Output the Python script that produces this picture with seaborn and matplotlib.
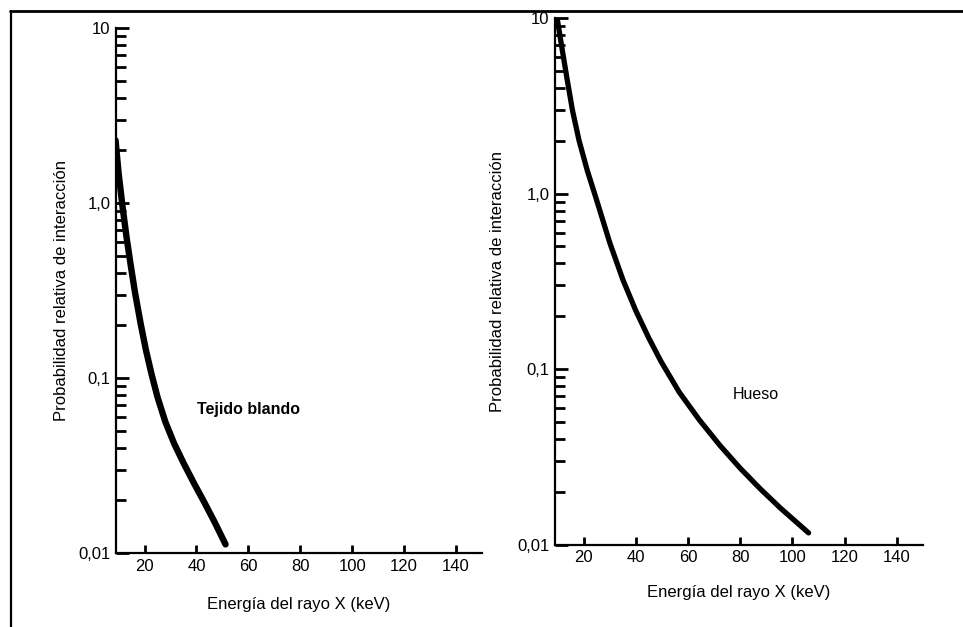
import matplotlib
matplotlib.use("Agg")
import matplotlib.pyplot as plt
import seaborn as sns
import pandas as pd
from matplotlib.lines import Line2D
from matplotlib.ticker import FixedLocator, LogLocator, NullFormatter, FixedFormatter

# ---- data ----
energia_tejido = [8.8, 10, 11.5, 13, 14.5, 16.3, 18.5, 20.5, 22.7, 25, 28, 31.4, 35, 39, 43, 47, 51.2]
prob_tejido = [2.29, 1.48, 0.955, 0.646, 0.457, 0.309, 0.204, 0.145, 0.105, 0.0776, 0.0562,
               0.0422, 0.0327, 0.0251, 0.0195, 0.015, 0.0112]

energia_hueso = [9.9, 11.8, 13.7, 15.7, 18.2, 21.4, 24.6, 30, 35, 40, 45, 49.6, 56.6, 64.4,
                 72.1, 79.9, 87.6, 95.4, 106.2]
prob_hueso = [9.8, 6.56, 4.43, 2.98, 2.01, 1.35, 0.955, 0.525, 0.324, 0.215, 0.150, 0.111,
              0.0741, 0.0513, 0.037, 0.0274, 0.0209, 0.0162, 0.0117]

x_ticks = [20, 40, 60, 80, 100, 120, 140]
y_ticks = [0.01, 0.1, 1, 10]
y_tick_labels = ["0,01", "0,1", "1,0", "10"]
x_label = "Energía del rayo X (keV)"
y_label = "Probabilidad relativa de interacción"
label_tejido = "Tejido blando"
label_hueso = "Hueso"

sns.set_theme(style="white")
plt.rcParams["font.family"] = ["Liberation Sans", "DejaVu Sans"]
plt.rcParams["text.color"] = "black"
plt.rcParams["axes.labelcolor"] = "black"

fig = plt.figure(figsize=(9.63, 6.27), dpi=100)
ax1 = fig.add_axes([0.1205, 0.118, 0.380, 0.837])
ax2 = fig.add_axes([0.5763, 0.131, 0.382, 0.8405])

df1 = pd.DataFrame({"E": energia_tejido, "P": prob_tejido})
df2 = pd.DataFrame({"E": energia_hueso, "P": prob_hueso})

sns.lineplot(data=df1, x="E", y="P", ax=ax1, color="black", linewidth=4.6, sort=False)
sns.lineplot(data=df2, x="E", y="P", ax=ax2, color="black", linewidth=3.8, sort=False)

for ax, xpad, ypad in ((ax1, 17, 7), (ax2, 14, 9)):
    ax.set_yscale("log")
    ax.set_ylim(0.01, 10)
    ax.set_xlim(9, 150)
    ax.xaxis.set_major_locator(FixedLocator(x_ticks))
    ax.set_xticklabels([str(t) for t in x_ticks])
    ax.yaxis.set_major_locator(FixedLocator(y_ticks))
    ax.yaxis.set_major_formatter(FixedFormatter(y_tick_labels))
    ax.yaxis.set_minor_locator(LogLocator(base=10, subs=range(2, 10)))
    ax.yaxis.set_minor_formatter(NullFormatter())
    for s in ("top", "right"):
        ax.spines[s].set_visible(False)
    for s in ("left", "bottom"):
        ax.spines[s].set_color("black")
        ax.spines[s].set_linewidth(1.6)
    ax.tick_params(axis="y", which="major", direction="in", length=9, width=2,
                   labelsize=12, pad=4, left=True, colors="black")
    ax.tick_params(axis="y", which="minor", direction="in", length=7, width=2, left=True,
                   colors="black")
    ax.tick_params(axis="x", which="major", direction="in", length=6, width=2,
                   labelsize=12, pad=4, bottom=True, colors="black")
    ax.set_xlabel(x_label, fontsize=12, labelpad=xpad, color="black")
    ax.set_ylabel(y_label, fontsize=12, labelpad=ypad, color="black")
    ax.patch.set_alpha(0)

ax1.text(60, 0.066, label_tejido, fontsize=11.5, fontweight="bold", ha="center", va="center",
         color="black")
ax2.text(86, 0.072, label_hueso, fontsize=11.5, ha="center", va="center", color="black")

# scanned page frame
fig.add_artist(Line2D([10 / 963, 1.0], [1 - 11 / 627, 1 - 11 / 627],
                      transform=fig.transFigure, color="black", linewidth=2))
fig.add_artist(Line2D([11 / 963, 11 / 963], [0, 1 - 11 / 627],
                      transform=fig.transFigure, color="black", linewidth=1.6))

fig.savefig("out.png", dpi=100, facecolor="white")
